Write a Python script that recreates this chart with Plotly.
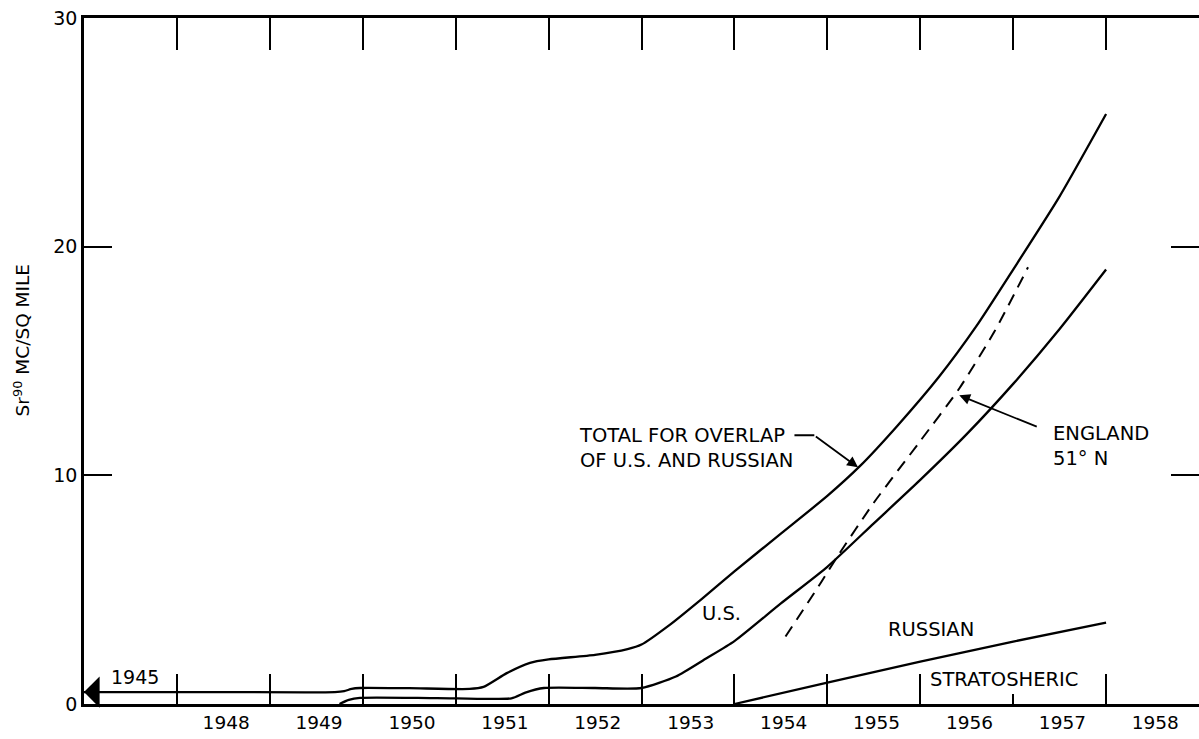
import plotly.graph_objects as go

# ---- data ----
years = [1948, 1949, 1950, 1951, 1952, 1953, 1954, 1955, 1956, 1957, 1958]
year_labels = [str(y) for y in years]
y_ticks = [0, 10, 20, 30]

total_x = [1947.0, 1948.5, 1949.7, 1949.8, 1949.88, 1949.97, 1950.5, 1951.15, 1951.3, 1951.55,
           1951.8, 1952.0, 1952.5, 1952.85, 1953.0, 1953.3, 1953.65, 1954.0, 1954.5, 1955.0,
           1955.35, 1955.75, 1956.2, 1956.6, 1957.0, 1957.5, 1958.0]
total_y = [0.52, 0.52, 0.52, 0.56, 0.66, 0.7, 0.69, 0.66, 0.75, 1.35,
           1.8, 1.95, 2.15, 2.4, 2.6, 3.45, 4.6, 5.8, 7.45, 9.1,
           10.4, 12.15, 14.3, 16.5, 19.0, 22.2, 25.8]

us_x = [1949.75, 1949.85, 1949.97, 1950.8, 1951.6, 1951.75, 1951.95, 1952.5, 1953.0, 1953.37,
        1953.7, 1954.0, 1954.5, 1955.0, 1955.5, 1956.0, 1956.5, 1957.0, 1957.5, 1958.0]
us_y = [0.0, 0.18, 0.27, 0.26, 0.25, 0.5, 0.7, 0.7, 0.7, 1.2,
        2.0, 2.75, 4.4, 6.0, 7.9, 9.8, 11.8, 14.0, 16.4, 19.0]

russian_x = [1954.0, 1955.0, 1956.0, 1957.0, 1958.0]
russian_y = [0.0, 0.93, 1.85, 2.73, 3.56]

england_x = [1954.55, 1954.93, 1955.1, 1955.5, 1956.0, 1956.42, 1956.8, 1957.16]
england_y = [2.95, 5.3, 6.4, 8.8, 11.5, 13.8, 16.3, 19.1]

FONT = "DejaVu Sans, Verdana, sans-serif"
BLACK = "black"

fig = go.Figure()
solid = dict(color=BLACK, width=2.3, shape="spline", smoothing=0.6)
fig.add_trace(go.Scatter(x=total_x, y=total_y, mode="lines", line=solid, hoverinfo="skip"))
fig.add_trace(go.Scatter(x=us_x, y=us_y, mode="lines", line=solid, hoverinfo="skip"))
fig.add_trace(go.Scatter(x=russian_x, y=russian_y, mode="lines",
                         line=dict(color=BLACK, width=2.3, shape="spline", smoothing=0.5),
                         hoverinfo="skip"))
fig.add_trace(go.Scatter(x=england_x, y=england_y, mode="lines",
                         line=dict(color=BLACK, width=2, dash="12px,8px", shape="spline", smoothing=0.6),
                         hoverinfo="skip"))
# helper traces so the extra tick axes are drawn
fig.add_trace(go.Scatter(x=[], y=[], xaxis="x2", yaxis="y", hoverinfo="skip"))
fig.add_trace(go.Scatter(x=[], y=[], xaxis="x3", yaxis="y", hoverinfo="skip"))
fig.add_trace(go.Scatter(x=[], y=[], xaxis="x", yaxis="y2", hoverinfo="skip"))

xr = [1947, 1959]
label_pos = [y + 0.53 for y in years]
long_ticks = [y for y in years if y != 1957]

fig.update_layout(
    width=1199, height=739,
    margin=dict(l=84, r=0, t=18, b=35),
    paper_bgcolor="white", plot_bgcolor="white",
    showlegend=False,
    font=dict(family=FONT, color=BLACK, size=16),
    xaxis=dict(range=xr, showgrid=False, zeroline=False,
               showline=True, linecolor=BLACK, linewidth=2.5,
               tickmode="array", tickvals=label_pos, ticktext=year_labels,
               ticks="", tickfont=dict(size=18.5, family=FONT),
               minor=dict(tickmode="array", tickvals=long_ticks, ticks="inside",
                          ticklen=30, tickwidth=2.2, tickcolor=BLACK, showgrid=False)),
    xaxis2=dict(range=xr, overlaying="x", side="bottom", anchor="y",
                showgrid=False, zeroline=False, showline=False,
                tickmode="array", tickvals=[1957], ticks="inside", ticklen=10,
                tickwidth=2.2, tickcolor=BLACK, showticklabels=False),
    xaxis3=dict(range=xr, overlaying="x", side="top", anchor="y",
                showgrid=False, zeroline=False, showline=True, linecolor=BLACK, linewidth=2.5,
                tickmode="array", tickvals=years, ticks="inside", ticklen=32,
                tickwidth=2.2, tickcolor=BLACK, showticklabels=False),
    yaxis=dict(range=[0, 30], showgrid=False, zeroline=False,
               showline=True, linecolor=BLACK, linewidth=2.5,
               tickmode="array", tickvals=y_ticks, ticks="inside", ticklen=28,
               tickwidth=2.2, tickcolor=BLACK, tickfont=dict(size=19, family=FONT)),
    yaxis2=dict(range=[0, 30], overlaying="y", side="right", anchor="x",
                showgrid=False, zeroline=False, showline=False,
                tickmode="array", tickvals=[10, 20], ticks="inside", ticklen=28,
                tickwidth=2.2, tickcolor=BLACK, showticklabels=False),
)

ann_font = dict(family=FONT, size=19.5, color=BLACK)

# y-axis title
fig.add_annotation(xref="paper", yref="paper", x=-0.0556, y=0.53, textangle=-90,
                   xanchor="center", yanchor="middle",
                   text="Sr<sup>90</sup> MC/SQ MILE", showarrow=False,
                   font=dict(family=FONT, size=18.5, color=BLACK))

# 1945 arrow at left end of total curve
fig.add_annotation(x=xr[0], y=total_y[0], ax=xr[0] + 0.25, ay=total_y[0], axref="x", ayref="y",
                   text="", showarrow=True, arrowhead=1, arrowsize=2.6, arrowwidth=2,
                   arrowcolor=BLACK)
fig.add_annotation(x=1947.55, y=1.2, text="1945", showarrow=False,
                   font=dict(family=FONT, size=19, color=BLACK))

# total label
fig.add_annotation(x=1952.31, y=11.2, text="TOTAL FOR OVERLAP<br>OF U.S. AND RUSSIAN",
                   xanchor="left", yanchor="middle", align="left", showarrow=False, font=ann_font)
fig.add_annotation(x=1954.86, y=11.75, ax=1954.63, ay=11.75, axref="x", ayref="y",
                   text="", showarrow=True, arrowhead=0, arrowwidth=2, arrowcolor=BLACK)
fig.add_annotation(x=1955.33, y=10.35, ax=1954.86, ay=11.75, axref="x", ayref="y",
                   text="", showarrow=True, arrowhead=2, arrowsize=1.2, arrowwidth=1.8,
                   arrowcolor=BLACK)

# England label
fig.add_annotation(x=1957.41, y=11.3, text="ENGLAND<br>51° N",
                   xanchor="left", yanchor="middle", align="left", showarrow=False, font=ann_font)
fig.add_annotation(x=1956.42, y=13.5, ax=1957.27, ay=12.1, axref="x", ayref="y",
                   text="", showarrow=True, arrowhead=2, arrowsize=1.2, arrowwidth=1.8,
                   arrowcolor=BLACK)

fig.add_annotation(x=1953.86, y=3.94, text="U.S.", showarrow=False, font=ann_font)
fig.add_annotation(x=1956.12, y=3.24, text="RUSSIAN", showarrow=False, font=ann_font)
fig.add_annotation(x=1956.08, y=1.05, text="STRATOSHERIC", xanchor="left",
                   showarrow=False, font=ann_font)

fig.write_html("out.html", config={"displayModeBar": False},
               post_script="document.body.style.margin='0px';document.body.style.padding='0px';")
